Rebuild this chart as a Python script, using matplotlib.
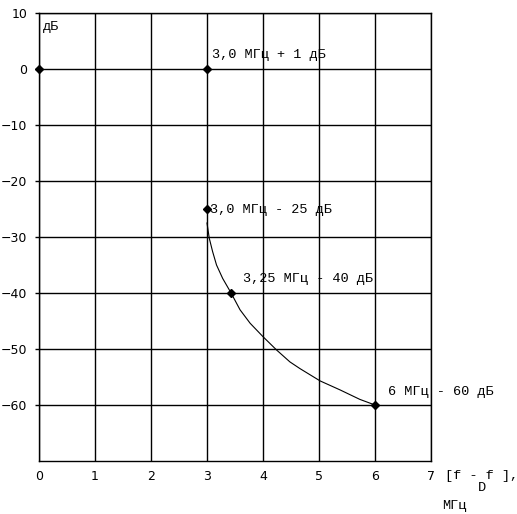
import matplotlib.pyplot as plt

# marked points (MHz, dB)
pts_x = [0, 3, 3, 3.43, 6]
pts_y = [0, 0, -25, -40, -60]

# slope curve
curve_x = [3.0, 3.04, 3.10, 3.17, 3.28, 3.43, 3.59, 3.77, 4.0, 4.245, 4.48,
           4.66, 5.02, 5.375, 5.73, 6.0]
curve_y = [-27.5, -30.2, -32.6, -35.0, -37.4, -40, -43.0, -45.4, -47.8, -50.2,
           -52.3, -53.5, -55.7, -57.3, -59.0, -60]

labels = ['3,0 МГц + 1 дБ', '3,0 МГц - 25 дБ', '3,25 МГц - 40 дБ', '6 МГц - 60 дБ']
label_x = [3.09, 3.06, 3.64, 6.23]
label_y = [2.5, -25.2, -37.5, -57.7]

mono = 'Liberation Mono'
fs = 9.7

fig = plt.figure(figsize=(5.17, 5.14), dpi=100)
ax = fig.add_axes([39/517, 53/514, 392/517, 448/514])

ax.set_xlim(0, 7)
ax.set_ylim(-70, 10)
ax.set_xticks(range(0, 8))
ax.set_yticks(range(-60, 11, 10))
ax.grid(True, color='black', lw=1.0)
for s in ax.spines.values():
    s.set_linewidth(1.0)
ax.tick_params(axis='x', length=0, pad=6.5, labelsize=9)
ax.tick_params(axis='y', length=3, width=1.0, pad=5.5, labelsize=9)

ax.plot(curve_x, curve_y, color='black', lw=0.8)
ax.plot(pts_x, pts_y, 'D', color='black', ms=4.5, clip_on=False, zorder=5)

for t, x, y in zip(labels, label_x, label_y):
    ax.text(x, y, t, family=mono, fontsize=fs, va='center', ha='left')

ax.text(0.07, 7.5, 'дБ', family=mono, fontsize=fs, va='center', ha='left')

# x axis label: [f - f_D], МГц
ax.text(7.25, -72.6, '[f - f ],', family=mono, fontsize=fs, va='center',
        ha='left', clip_on=False)
ax.text(7.84, -74.9, 'D', family=mono, fontsize=fs, va='center',
        ha='left', clip_on=False)
ax.text(7.2, -78.0, 'МГц', family=mono, fontsize=fs, va='center',
        ha='left', clip_on=False)

fig.savefig('out.png', dpi=100)
